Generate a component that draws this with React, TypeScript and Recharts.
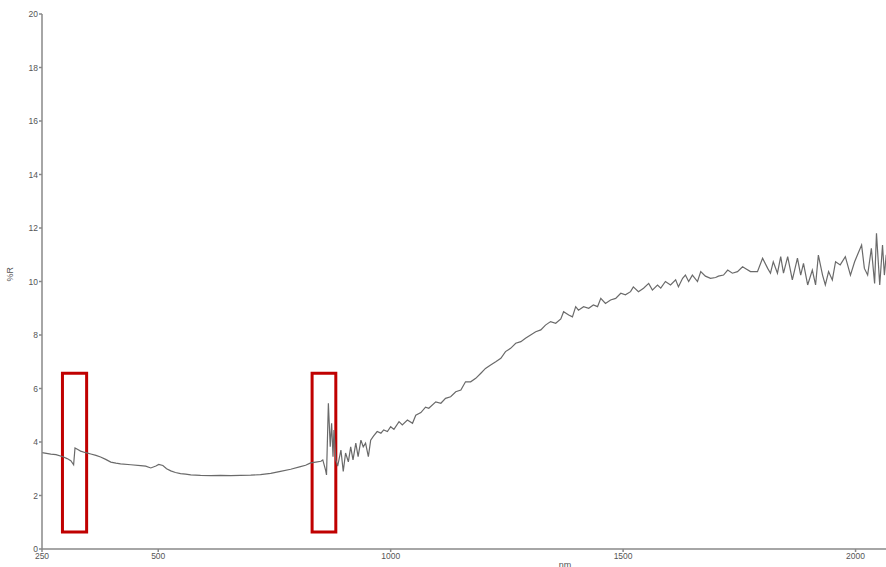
import { LineChart, Line, XAxis, YAxis, ReferenceArea } from 'recharts';

// wavelength (nm) and reflectance (%R)
const wavelength = [
  250, 269, 280, 295, 304, 312, 318, 321, 327, 333, 344, 355, 366, 376, 387, 398, 409, 419, 441, 462,
  473, 484, 495, 501, 510, 518, 527, 537, 548, 559, 570, 591, 613, 634, 656, 677, 699, 720, 742, 763,
  785, 806, 817, 828, 839, 850, 854, 860, 862, 866, 870, 873, 876, 878, 882, 886, 893, 898, 903, 909,
  914, 919, 925, 930, 936, 941, 946, 952, 957, 963, 971, 979, 985, 993, 1000, 1007, 1018, 1025, 1036, 1047,
  1054, 1065, 1075, 1082, 1097, 1108, 1118, 1129, 1140, 1151, 1161, 1172, 1183, 1194, 1204, 1215, 1226, 1237, 1247, 1258,
  1269, 1280, 1290, 1301, 1312, 1323, 1333, 1344, 1355, 1366, 1372, 1383, 1391, 1398, 1404, 1415, 1426, 1436, 1445, 1452,
  1462, 1473, 1484, 1495, 1505, 1516, 1522, 1533, 1544, 1555, 1563, 1574, 1581, 1591, 1602, 1613, 1619, 1628, 1634, 1641,
  1649, 1660, 1667, 1677, 1688, 1699, 1705, 1716, 1725, 1735, 1746, 1757, 1763, 1774, 1789, 1800, 1811, 1817, 1823, 1832,
  1839, 1845, 1854, 1864, 1875, 1882, 1888, 1897, 1907, 1914, 1920, 1929, 1935, 1942, 1950, 1957, 1967, 1978, 1989, 1998,
  2004, 2013, 2019, 2026, 2034, 2041, 2045, 2052, 2058, 2062, 2066,
];

const reflectance = [
  3.6, 3.55, 3.53, 3.45, 3.38, 3.3, 3.15, 3.78, 3.72, 3.66, 3.6, 3.55, 3.5, 3.44, 3.35, 3.25, 3.21, 3.18, 3.15, 3.12,
  3.1, 3.03, 3.1, 3.16, 3.12, 3.0, 2.92, 2.86, 2.82, 2.8, 2.77, 2.75, 2.74, 2.75, 2.74, 2.75, 2.76, 2.78, 2.83, 2.9,
  2.98, 3.08, 3.13, 3.22, 3.25, 3.28, 3.33, 2.95, 2.77, 5.45, 3.82, 4.7, 3.45, 4.45, 3.33, 3.1, 3.7, 2.9, 3.59, 3.26,
  3.82, 3.33, 3.96, 3.45, 4.07, 3.82, 3.96, 3.45, 4.07, 4.22, 4.39, 4.33, 4.45, 4.39, 4.57, 4.47, 4.76, 4.64, 4.82, 4.7,
  5.0, 5.1, 5.3, 5.26, 5.5, 5.45, 5.63, 5.69, 5.88, 5.94, 6.25, 6.25, 6.38, 6.57, 6.75, 6.88, 7.0, 7.13, 7.38, 7.5,
  7.69, 7.75, 7.88, 8.0, 8.12, 8.19, 8.37, 8.5, 8.44, 8.6, 8.87, 8.75, 8.68, 9.06, 8.93, 9.06, 9.0, 9.12, 9.06, 9.37,
  9.18, 9.31, 9.37, 9.56, 9.5, 9.62, 9.8, 9.62, 9.75, 9.93, 9.68, 9.87, 9.75, 10.0, 9.87, 10.06, 9.8, 10.12, 10.24, 10.0,
  10.24, 10.0, 10.37, 10.2, 10.12, 10.15, 10.2, 10.24, 10.43, 10.31, 10.37, 10.55, 10.49, 10.37, 10.37, 10.87, 10.49, 10.31, 10.74, 10.31,
  10.93, 10.31, 10.93, 10.06, 10.87, 10.24, 10.68, 9.87, 10.43, 9.87, 10.99, 10.24, 9.87, 10.37, 10.06, 10.74, 10.62, 10.93, 10.24, 10.74,
  10.99, 11.36, 10.49, 10.24, 11.24, 9.93, 11.8, 9.87, 11.36, 10.24, 11.0,
];

const xTicks = [250, 500, 1000, 1500, 2000];
const yTicks = [0, 2, 4, 6, 8, 10, 12, 14, 16, 18, 20];

// highlighted regions (nm range, %R range)
const boxes = [
  { x1: 294, x2: 346, y1: 0.64, y2: 6.57 },
  { x1: 831, x2: 882, y1: 0.64, y2: 6.57 },
];

const data = wavelength.map((nm, i) => ({ nm, r: reflectance[i] }));

const font = 'Liberation Sans, Arial, sans-serif';
const tickStyle = { fontSize: 8.5, fill: '#555', fontFamily: font };

// the original plot runs to 2500 nm; the screenshot is cropped at 886px
export default function App() {
  return (
    <div style={{ position: 'absolute', left: 0, top: 0, width: 886, height: 567, overflow: 'hidden' }}>
      <LineChart width={1092} height={567} data={data} margin={{ top: 14, right: 4, bottom: 0, left: 0 }}>
        <XAxis
          dataKey="nm"
          type="number"
          domain={[250, 2500]}
          ticks={xTicks}
          height={18}
          stroke="#888"
          strokeWidth={1.5}
          tickSize={3}
          tick={tickStyle}
          tickMargin={1}
          interval={0}
          label={{ value: 'nm', position: 'insideBottom', offset: -1, fontSize: 9, fill: '#555', fontFamily: font }}
        />
        <YAxis
          type="number"
          domain={[0, 20]}
          ticks={yTicks}
          width={42}
          stroke="#888"
          strokeWidth={1.5}
          tickSize={3}
          tick={tickStyle}
          tickMargin={1}
          interval={0}
          label={{ value: '%R', angle: -90, position: 'insideLeft', offset: 10, fontSize: 9, fill: '#555', fontFamily: font }}
        />
        {boxes.map((b, i) => (
          <ReferenceArea
            key={i}
            x1={b.x1}
            x2={b.x2}
            y1={b.y1}
            y2={b.y2}
            fill="none"
            fillOpacity={0}
            stroke="#c00000"
            strokeWidth={3}
            ifOverflow="visible"
          />
        ))}
        <Line
          type="linear"
          dataKey="r"
          stroke="#6a6a6a"
          strokeWidth={1.2}
          dot={false}
          isAnimationActive={false}
        />
      </LineChart>
    </div>
  );
}
